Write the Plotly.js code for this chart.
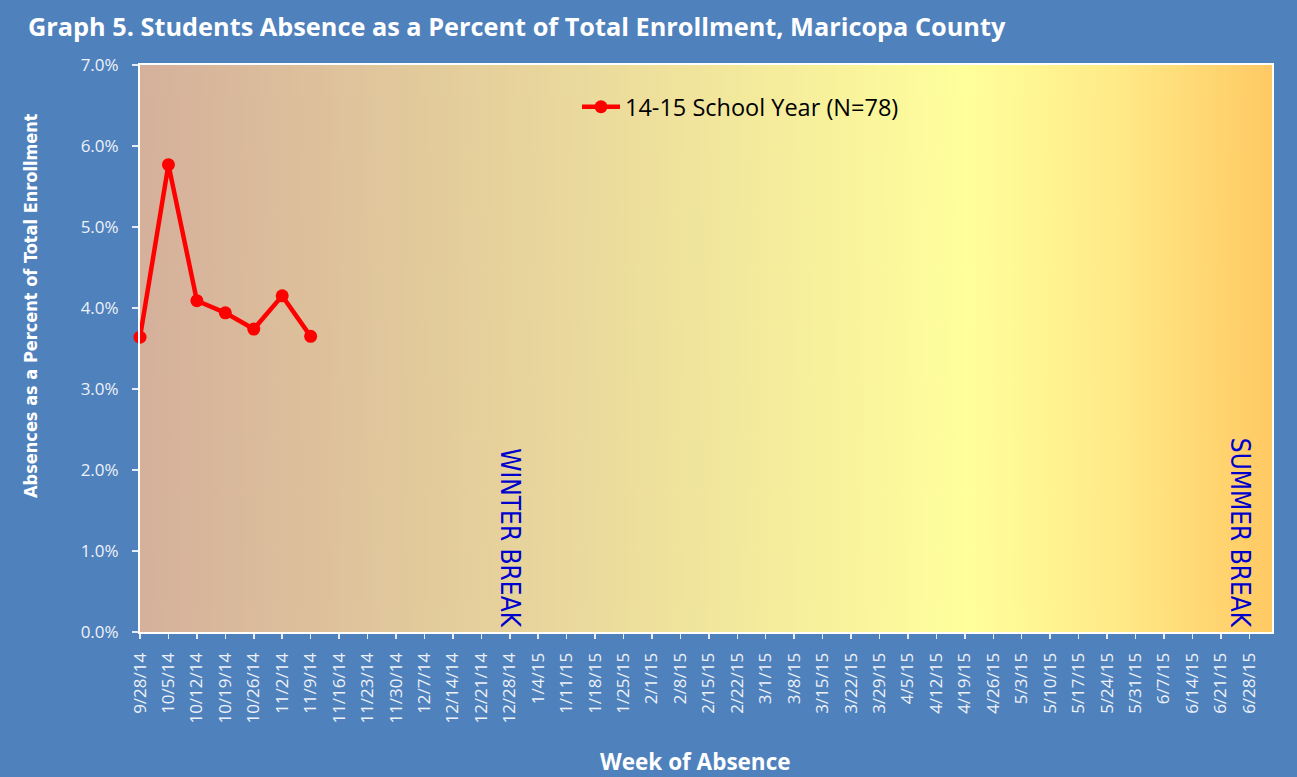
<!DOCTYPE html>
<html>
<head>
<meta charset="utf-8">
<script src="https://cdn.plot.ly/plotly-3.0.1.min.js"></script>
<style>
html,body{margin:0;padding:0;background:#4F81BD;}
#chart{width:1297px;height:777px;}
</style>
</head>
<body>
<div id="chart"></div>
<script>
// Weekly categories (week of absence)
const weeks = ["9/28/14","10/5/14","10/12/14","10/19/14","10/26/14","11/2/14","11/9/14","11/16/14","11/23/14","11/30/14","12/7/14","12/14/14","12/21/14","12/28/14","1/4/15","1/11/15","1/18/15","1/25/15","2/1/15","2/8/15","2/15/15","2/22/15","3/1/15","3/8/15","3/15/15","3/22/15","3/29/15","4/5/15","4/12/15","4/19/15","4/26/15","5/3/15","5/10/15","5/17/15","5/24/15","5/31/15","6/7/15","6/14/15","6/21/15","6/28/15"];
// 14-15 school year absence (% of total enrollment), reported weeks only
const reportedWeeks = ["9/28/14","10/5/14","10/12/14","10/19/14","10/26/14","11/2/14","11/9/14"];
const absencePct = [3.64, 5.77, 4.09, 3.94, 3.74, 4.15, 3.65];
const seriesName = "14-15 School Year (N=78)";
const breakLabels = ["WINTER BREAK", "SUMMER BREAK"];
const breakWeeks = ["12/28/14", 38.7];

// gradient background for plot area
const cv = document.createElement('canvas');
cv.width = 1132; cv.height = 10;
const ctx = cv.getContext('2d');
const g = ctx.createLinearGradient(0,0,1132,0);
g.addColorStop(0, '#D5B09B');
g.addColorStop(0.37, '#E9D79C');
g.addColorStop(0.73, '#FFFF9C');
g.addColorStop(0.86, '#FFEB88');
g.addColorStop(1, '#FFC964');
ctx.fillStyle = g; ctx.fillRect(0,0,1132,10);
const bgURL = cv.toDataURL('image/png');

const data = [{
  x: reportedWeeks,
  y: absencePct,
  type: 'scatter',
  mode: 'lines+markers',
  name: seriesName,
  line: {color: '#FF0000', width: 4.5},
  marker: {color: '#FF0000', size: 13},
  cliponaxis: false,
  showlegend: true
}];

const layout = {
  width: 1297, height: 777,
  paper_bgcolor: '#4F81BD',
  plot_bgcolor: 'rgba(0,0,0,0)',
  margin: {l: 140, r: 25, t: 65, b: 145},
  title: {
    text: 'Graph 5. Students Absence as a Percent of Total Enrollment, Maricopa County',
    font: {family: '"Open Sans", sans-serif', size: 25.3, color: '#FFFFFF', weight: 'bold'},
    x: 28/1297, xanchor: 'left', xref: 'container', y: 1 - 27/777, yanchor: 'middle', yref: 'container'
  },
  xaxis: {
    type: 'category',
    categoryorder: 'array',
    categoryarray: weeks,
    tickvals: weeks,
    ticktext: weeks,
    range: [0, 39.8],
    tickangle: -90,
    tickfont: {family: '"Open Sans", sans-serif', size: 17, color: '#EEF2F8'},
    ticks: 'outside', ticklen: 5, tickcolor: '#E6ECF5', tickwidth: 1.5,
    ticklabelstandoff: 7,
    showline: true, linecolor: '#FFFFFF', linewidth: 2, mirror: true,
    showgrid: false, zeroline: false
  },
  yaxis: {
    range: [0, 7],
    dtick: 1,
    tickformat: '.1f',
    ticksuffix: '%',
    tickfont: {family: '"Open Sans", sans-serif', size: 17, color: '#EEF2F8'},
    ticks: 'outside', ticklen: 6, tickcolor: '#E6ECF5', tickwidth: 1.5,
    ticklabelstandoff: 10,
    showline: true, linecolor: '#FFFFFF', linewidth: 2, mirror: true,
    showgrid: false, zeroline: false
  },
  legend: {
    x: (577-140)/1132, xanchor: 'left',
    y: (632-107)/567, yanchor: 'middle',
    itemwidth: 38,
    bgcolor: 'rgba(0,0,0,0)',
    font: {family: '"Open Sans", sans-serif', size: 23.5, color: '#000000'}
  },
  images: [{
    source: bgURL, xref: 'paper', yref: 'paper', x: 0, y: 1, sizex: 1, sizey: 1,
    sizing: 'stretch', layer: 'below', xanchor: 'left', yanchor: 'top'
  }],
  annotations: breakLabels.map((t, i) => ({
    text: t, x: breakWeeks[i], xref: 'x', y: 0.03, yref: 'y',
    yanchor: 'bottom', xanchor: 'center',
    textangle: 90, showarrow: false,
    font: {family: '"Liberation Sans Narrow", "DejaVu Sans Condensed", sans-serif', size: 26, color: '#0000CC'}
  })).concat([
    {
      text: 'Absences as a Percent of Total Enrollment',
      xref: 'paper', yref: 'paper', x: (30-140)/1132, y: (632-306)/567,
      xanchor: 'center', yanchor: 'middle', textangle: -90, showarrow: false,
      font: {family: '"Liberation Sans Narrow", "DejaVu Sans Condensed", sans-serif', size: 18, color: '#FFFFFF', weight: 'bold'}
    },
    {
      text: 'Week of Absence',
      xref: 'paper', yref: 'paper', x: (695-140)/1132, y: -(762-632)/567,
      xanchor: 'center', yanchor: 'middle', showarrow: false,
      font: {family: '"Open Sans", sans-serif', size: 22.5, color: '#FFFFFF', weight: 'bold'}
    }
  ])
};

Plotly.newPlot('chart', data, layout, {displayModeBar: false, staticPlot: true});
</script>
</body>
</html>
